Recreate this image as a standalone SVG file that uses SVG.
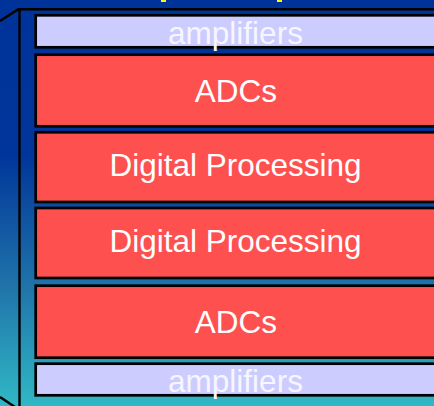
<svg xmlns="http://www.w3.org/2000/svg" width="434" height="406" viewBox="0 0 434 406">
<defs>
<linearGradient id="bg" x1="0" y1="0" x2="0" y2="1">
<stop offset="0" stop-color="#003399"/>
<stop offset="0.38" stop-color="#00359a"/>
<stop offset="0.7" stop-color="#1f72a9"/>
<stop offset="1" stop-color="#30b8c5"/>
</linearGradient>
</defs>
<style>
.frame{fill:none;stroke:#000;stroke-width:2.4}
.amp{fill:#ccccff;stroke:#000;stroke-width:2.7}
.red{fill:#ff5050;stroke:#000;stroke-width:2.7}
.lbl{font-family:"Liberation Sans",Arial,sans-serif;font-size:31.5px;fill:#ffffff;text-anchor:middle}
.amplbl{fill:#f6f6ff}
</style>
<rect x="0" y="0" width="434" height="406" fill="url(#bg)"/>
<rect x="161" y="0" width="5" height="2" fill="#ffff00"/>
<rect x="277" y="0" width="5" height="2" fill="#ffff00"/>
<g id="frame">
<path class="frame" d="M18.5 9.2 H436 M19.5 8.5 V408 M0 21 L19.5 8.5 M0 397 L19.5 410"/>
</g>
<g id="connectors"></g>
<g id="amplifiers-top">
<rect class="amp" x="35.7" y="15.3" width="402" height="32"/>
<text class="lbl amplbl" x="235.5" y="43.5">amplifiers</text>
</g>
<g id="adcs-top">
<rect class="red" x="35.7" y="54.7" width="402" height="71.6"/>
<text class="lbl" x="236" y="102.3">ADCs</text>
</g>
<g id="digital-1">
<rect class="red" x="35.7" y="132.3" width="402" height="69.7"/>
<text class="lbl" x="235.5" y="175.5">Digital Processing</text>
</g>
<g id="digital-2">
<rect class="red" x="35.7" y="208" width="402" height="70"/>
<text class="lbl" x="235.5" y="251.5">Digital Processing</text>
</g>
<g id="adcs-bottom">
<rect class="red" x="35.7" y="285.7" width="402" height="72"/>
<text class="lbl" x="236" y="332.6">ADCs</text>
</g>
<g id="amplifiers-bottom">
<rect class="amp" x="35.7" y="363.7" width="402" height="31.6"/>
<text class="lbl amplbl" x="235.5" y="391.7">amplifiers</text>
</g>
</svg>
